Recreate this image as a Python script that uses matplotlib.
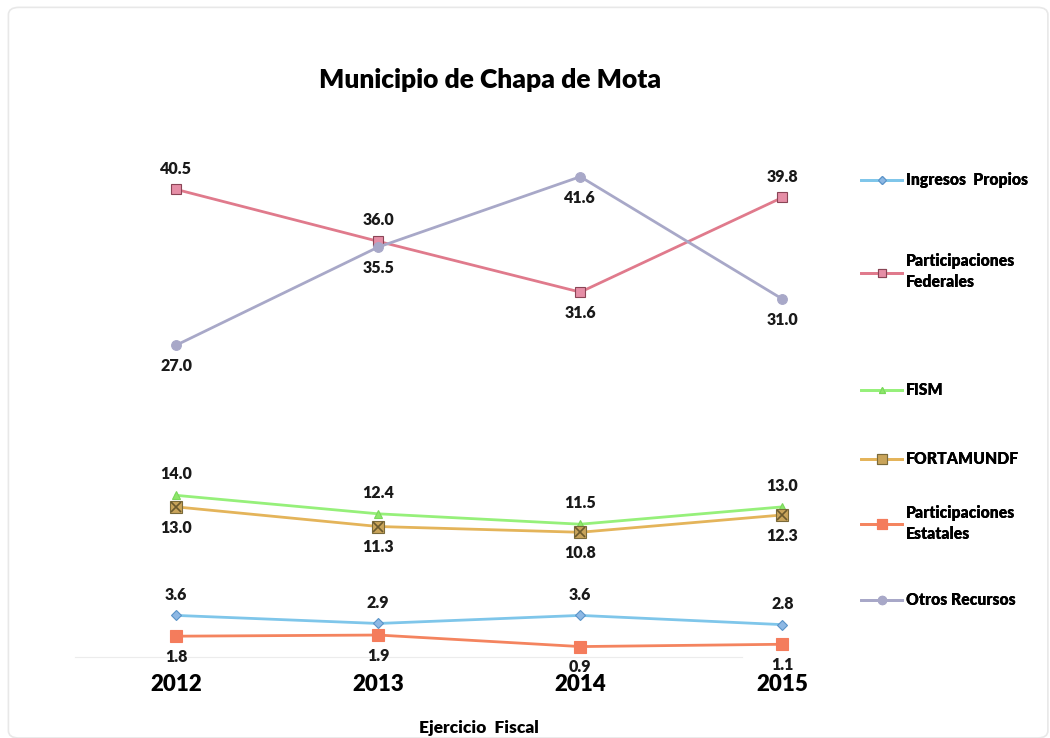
import matplotlib
matplotlib.use('Agg')
import matplotlib.pyplot as plt
from matplotlib.lines import Line2D
from matplotlib.patches import FancyBboxPatch

plt.rcParams['font.family'] = ['Lato', 'DejaVu Sans']

YEARS = ['2012', '2013', '2014', '2015']

INGRESOS_PROPIOS = [3.6, 2.9, 3.6, 2.8]
PART_FEDERALES = [40.5, 36.0, 31.6, 39.8]
FISM = [14.0, 12.4, 11.5, 13.0]
FORTAMUNDF = [13.0, 11.3, 10.8, 12.3]
PART_ESTATALES = [1.8, 1.9, 0.9, 1.1]
OTROS_RECURSOS = [27.0, 35.5, 41.6, 31.0]

# label above (+1) or below (-1) each point
SERIES = [
    ('Ingresos  Propios', INGRESOS_PROPIOS, '#7fc6ea', 'D', '#8db8e4', '#5a93c8', 5, [1, 1, 1, 1]),
    ('Participaciones\nFederales', PART_FEDERALES, '#e07a8c', 's', '#e58ea6', '#8a4556', 7, [1, 1, -1, 1]),
    ('FISM', FISM, '#96f07a', '^', '#8ee66a', '#7ad85c', 6, [1, 1, 1, 1]),
    ('FORTAMUNDF', FORTAMUNDF, '#e4b45a', 's', '#c9a45a', '#7a6a3a', 8, [-1, -1, -1, -1]),
    ('Participaciones\nEstatales', PART_ESTATALES, '#f4845f', 's', '#f47c5c', '#f47c5c', 8, [-1, -1, -1, -1]),
    ('Otros Recursos', OTROS_RECURSOS, '#a8a8c8', 'o', '#a8a8c8', '#a8a8c8', 7, [-1, -1, -1, -1]),
]

LEGEND_Y = [0.756, 0.632, 0.471, 0.378, 0.291, 0.187]

fig = plt.figure(figsize=(10.5, 7.38), dpi=100)
frame = FancyBboxPatch((0.008, 0.0), 0.99, 0.99, boxstyle='round,pad=0,rounding_size=0.01',
                       transform=fig.transFigure, facecolor='white', edgecolor='#e8e8e8', lw=1.2,
                       zorder=-5)
fig.patches.append(frame)
ax = fig.add_axes([0.0714, 0.1098, 0.770, 0.704])
ax.patch.set_alpha(0)

x = list(range(len(YEARS)))
for i, (label, vals, lc, mk, mfc, mec, ms, pos) in enumerate(SERIES):
    ax.plot(x, vals, color=lc, lw=2, marker=mk, markersize=ms, markerfacecolor=mfc,
            markeredgecolor=mec, markeredgewidth=0.8, zorder=3)
    if label == 'FORTAMUNDF':
        ax.plot(x, vals, ls='none', marker='x', markersize=ms - 1, color='#6b5a2e',
                markeredgewidth=1.2, zorder=4)
    for xi, v, p in zip(x, vals, pos):
        ax.annotate(f'{v:.1f}', (xi, v), xytext=(0, 15 * p), textcoords='offset points',
                    ha='center', va='center', fontsize=11.5, fontweight='heavy', color='#1a1a1a')

    handle = Line2D([0], [0], color=lc, lw=2, marker=mk, markersize=ms - 1, markerfacecolor=mfc,
                    markeredgecolor=mec, markeredgewidth=0.8)
    leg = fig.legend([handle], [label], loc='center left', bbox_to_anchor=(0.807, LEGEND_Y[i]),
                     frameon=False, handlelength=2.6, handletextpad=0.25,
                     prop={'weight': 'heavy', 'size': 11.3})
    for t in leg.get_texts():
        t.set_linespacing(1.4)
    fig.add_artist(leg)

ax.set_xlim(-0.5, 3.5)
ax.set_ylim(0, 45)
ax.set_xticks(x)
ax.set_xticklabels(YEARS, fontsize=16, fontweight='heavy')
ax.tick_params(axis='x', length=0, pad=12)
ax.set_yticks([])
for s in ['top', 'right', 'left']:
    ax.spines[s].set_visible(False)
ax.spines['bottom'].set_color('#ececec')
ax.spines['bottom'].set_bounds(-0.5, 2.8)

ax.set_xlabel('Ejercicio  Fiscal', fontsize=12.5, fontweight='heavy', labelpad=18)
fig.text(0.467, 0.892, 'Municipio de Chapa de Mota', ha='center', va='center',
         fontsize=19, fontweight='heavy')

fig.savefig('out.png', dpi=100)
